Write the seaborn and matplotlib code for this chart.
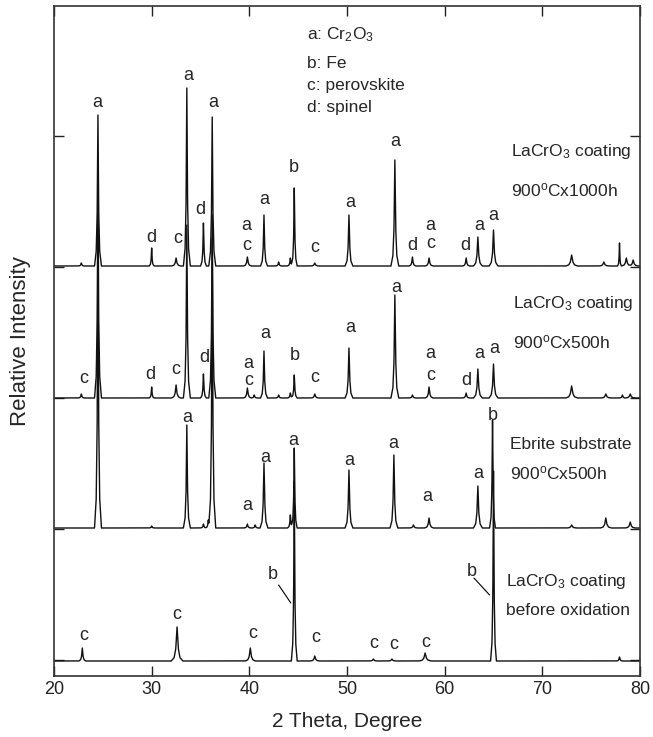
import numpy as np
import pandas as pd
import matplotlib
matplotlib.use("Agg")
import matplotlib.pyplot as plt
import seaborn as sns

# ---------------- data ----------------
samples = ["before oxidation", "Ebrite 900C x500h", "LaCrO3 900C x500h", "LaCrO3 900C x1000h"]
baselines = [15, 148, 278, 410]

# peak tables: 2theta position, height above baseline, half base width
pk_before_pos = [22.9, 32.6, 40.1, 44.6, 46.7, 52.7, 54.6, 58.0, 65.0, 77.9]
pk_before_h   = [13, 34, 13, 180, 5, 2, 2, 8, 190, 4]
pk_before_w   = [0.35, 0.6, 0.5, 0.3, 0.45, 0.4, 0.4, 0.6, 0.3, 0.3]

pk_ebrite_pos = [24.5, 30.0, 33.6, 35.3, 35.8, 36.2, 39.8, 40.6, 41.5, 44.2, 44.6,
                 50.2, 54.8, 56.8, 58.4, 63.4, 64.9, 73.0, 76.5, 79.0]
pk_ebrite_h   = [300, 2, 103, 4, 8, 290, 4, 3, 65, 13, 80,
                 58, 73, 3, 10, 42, 108, 3, 10, 6]
pk_ebrite_w   = [0.35, 0.3, 0.35, 0.3, 0.3, 0.35, 0.35, 0.3, 0.4, 0.3, 0.3,
                 0.4, 0.4, 0.4, 0.45, 0.45, 0.3, 0.5, 0.55, 0.5]

pk_500_pos = [22.8, 24.5, 30.0, 32.5, 33.6, 35.3, 36.2, 39.8, 40.5, 41.5, 43.0, 44.2,
              44.6, 46.7, 50.2, 54.9, 56.7, 58.4, 62.2, 63.4, 65.0, 73.0, 76.5, 78.2, 79.0]
pk_500_h   = [4, 220, 11, 13, 173, 24, 183, 10, 3, 47, 3, 5,
              23, 4, 50, 103, 3, 11, 5, 29, 34, 12, 4, 3, 4]
pk_500_w   = [0.3, 0.35, 0.25, 0.45, 0.35, 0.3, 0.35, 0.4, 0.3, 0.35, 0.3, 0.3,
              0.3, 0.4, 0.4, 0.4, 0.35, 0.4, 0.35, 0.45, 0.45, 0.6, 0.5, 0.3, 0.5]

pk_1000_pos = [22.8, 24.5, 30.0, 32.5, 33.6, 35.3, 36.2, 39.8, 41.5, 43.0, 44.2, 44.6,
               46.7, 50.2, 54.9, 56.7, 58.4, 62.2, 63.4, 65.0, 73.0, 76.3, 77.9, 78.6, 79.3]
pk_1000_h   = [3, 151, 18, 8, 178, 43, 149, 9, 51, 4, 8, 78,
               3, 51, 106, 9, 8, 8, 29, 36, 11, 4, 23, 8, 6]
pk_1000_w   = [0.3, 0.35, 0.25, 0.45, 0.35, 0.3, 0.35, 0.4, 0.35, 0.3, 0.3, 0.3,
               0.4, 0.4, 0.4, 0.35, 0.4, 0.35, 0.45, 0.45, 0.6, 0.5, 0.2, 0.5, 0.5]

# peak identification labels: (letter, 2theta, intensity)
lab_1000 = [("a", 24.4, 569), ("d", 30.0, 434), ("c", 32.7, 433), ("a", 33.7, 596),
            ("d", 35.0, 462), ("a", 36.3, 569), ("a", 39.65, 446), ("c", 39.75, 426),
            ("a", 41.5, 472), ("b", 44.6, 504), ("c", 46.7, 424), ("a", 50.3, 469),
            ("a", 54.9, 530), ("d", 56.7, 426), ("a", 58.5, 446), ("c", 58.6, 428),
            ("d", 62.1, 426), ("a", 63.5, 446), ("a", 65.0, 456)]
lab_500 = [("c", 23.0, 293), ("d", 29.9, 297), ("c", 32.5, 302), ("d", 35.35, 314),
           ("a", 39.9, 308), ("c", 39.9, 291), ("a", 41.6, 338), ("b", 44.7, 316),
           ("c", 46.7, 294), ("a", 50.3, 344), ("a", 55.0, 384), ("a", 58.5, 318),
           ("c", 58.6, 296), ("d", 62.2, 291), ("a", 63.5, 318), ("a", 65.1, 323)]
lab_ebrite = [("a", 33.6, 254), ("a", 39.8, 166), ("a", 41.6, 214), ("a", 44.5, 231),
              ("a", 50.2, 211), ("a", 54.7, 228), ("a", 58.2, 175), ("a", 63.4, 198),
              ("b", 64.9, 256)]
lab_before = [("c", 23.0, 36), ("c", 32.6, 57), ("c", 40.3, 38), ("c", 46.8, 34),
              ("c", 52.7, 28), ("c", 54.8, 27), ("c", 58.1, 29),
              ("b", 42.4, 97), ("b", 62.8, 100)]
leader_x = [[43.0, 44.25], [63.0, 64.6]]
leader_y = [[91, 73], [98, 81]]

sample_text = [("LaCrO$_3$ coating", 66.8, 520), ("900$^\\mathregular{o}$Cx1000h", 66.8, 480),
               ("LaCrO$_3$ coating", 67.0, 368), ("900$^\\mathregular{o}$Cx500h", 67.0, 328),
               ("Ebrite substrate", 66.7, 227), ("900$^\\mathregular{o}$Cx500h", 66.7, 197),
               ("LaCrO$_3$ coating", 66.3, 90), ("before oxidation", 66.3, 61)]
key_text = [("a: Cr$_2$O$_3$", 45.9, 637), ("b: Fe", 45.9, 608),
            ("c: perovskite", 45.9, 586), ("d: spinel", 45.9, 564)]

x_ticks = [20, 30, 40, 50, 60, 70, 80]
y_ticks = [16, 147, 278, 409, 540]

# ---------------- build profiles ----------------
grid = np.round(np.arange(20.0, 80.0001, 0.02), 4)
shape_off = np.array([-1.0, -0.5, -0.22, 0.0, 0.22, 0.5, 1.0])
shape_frac = np.array([0.0, 0.1, 0.36, 1.0, 0.36, 0.1, 0.0])


def profile(pos, h, w, base):
    y = np.full_like(grid, float(base))
    for p, hh, ww in zip(pos, h, w):
        y += np.interp(grid, p + shape_off * ww, hh * shape_frac, left=0, right=0)
    return y


tables = [(pk_before_pos, pk_before_h, pk_before_w),
          (pk_ebrite_pos, pk_ebrite_h, pk_ebrite_w),
          (pk_500_pos, pk_500_h, pk_500_w),
          (pk_1000_pos, pk_1000_h, pk_1000_w)]
frames = []
for name, base, (p, h, w) in zip(samples, baselines, tables):
    frames.append(pd.DataFrame({"two_theta": grid, "intensity": profile(p, h, w, base),
                                "sample": name}))
df = pd.concat(frames, ignore_index=True)

# ---------------- plot ----------------
sns.set_style("ticks")
plt.rcParams["font.family"] = ["Liberation Sans", "DejaVu Sans"]
plt.rcParams["mathtext.fontset"] = "custom"
plt.rcParams["mathtext.rm"] = "Liberation Sans"
plt.rcParams["mathtext.it"] = "Liberation Sans:italic"

fig = plt.figure(figsize=(6.53, 7.37), dpi=100)
ax = fig.add_axes([54 / 653, 1 - 676 / 737, 586 / 653, 670 / 737])

sns.lineplot(data=df, x="two_theta", y="intensity", units="sample", estimator=None,
             color="#111111", linewidth=1.0, ax=ax, sort=False)

ax.set_xlim(20, 80)
ax.set_ylim(0, 670)
ax.set_xticks(x_ticks)
ax.set_yticks(y_ticks)
ax.set_yticklabels([])
ax.tick_params(direction="in", length=7, width=1, top=True, right=True,
               labelsize=13, colors="#222222")
for s in ax.spines.values():
    s.set_linewidth(1.2)
    s.set_color("#333333")
ax.set_xlabel("2 Theta, Degree", fontsize=15, labelpad=10)
ax.set_ylabel("Relative Intensity", fontsize=16, labelpad=13)

for labs in (lab_1000, lab_500, lab_ebrite, lab_before):
    for t, x, y in labs:
        ax.text(x, y, t, fontsize=13, ha="center", va="baseline")
for lx, ly in zip(leader_x, leader_y):
    ax.plot(lx, ly, color="black", linewidth=0.8)
for t, x, y in sample_text:
    ax.text(x, y, t, fontsize=12.5, ha="left", va="baseline")
for t, x, y in key_text:
    ax.text(x, y, t, fontsize=12.5, ha="left", va="baseline")

fig.savefig("out.png", dpi=100)
